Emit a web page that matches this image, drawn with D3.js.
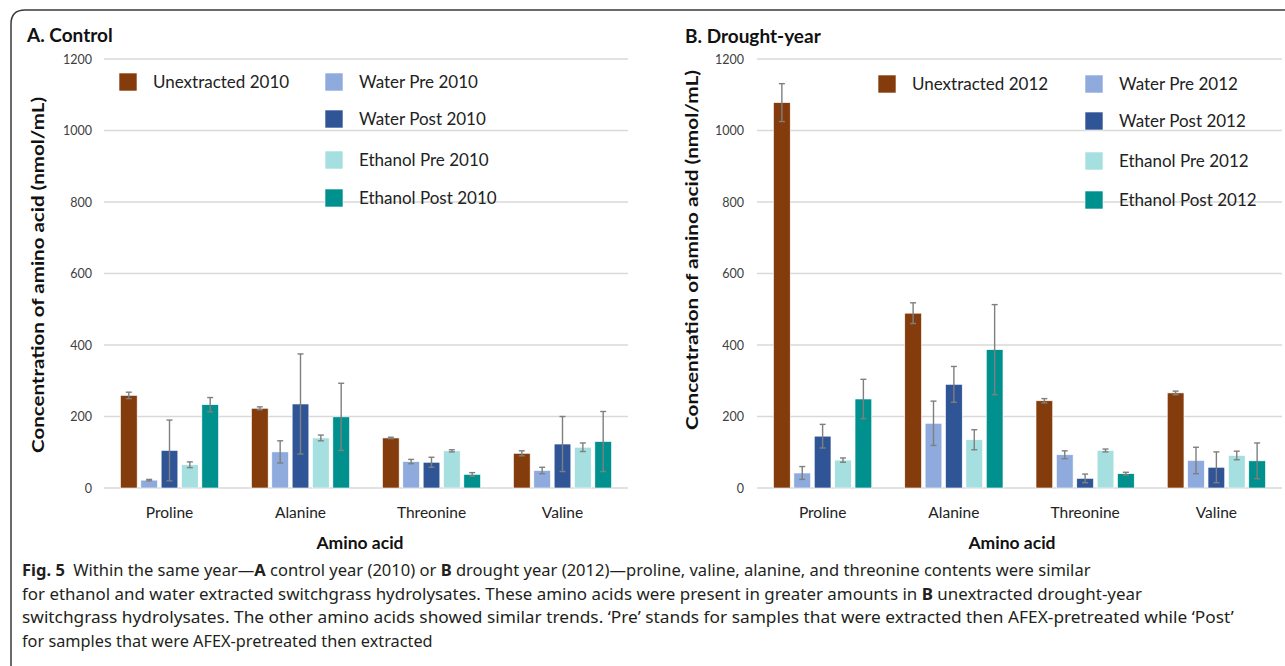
<!DOCTYPE html>
<html>
<head>
<meta charset="utf-8">
<script src="https://cdn.jsdelivr.net/npm/d3@7"></script>
<style>
  html, body { margin: 0; padding: 0; background: #fff; }
  svg { display: block; }
</style>
</head>
<body>
<svg id="chart" width="1285" height="666"></svg>
<script>
// ---------------- DATA ----------------
const categories = ["Proline", "Alanine", "Threonine", "Valine"];
const yTicks = [0, 200, 400, 600, 800, 1000, 1200];

const seriesA = ["Unextracted 2010", "Water Pre 2010", "Water Post 2010", "Ethanol Pre 2010", "Ethanol Post 2010"];
const seriesB = ["Unextracted 2012", "Water Pre 2012", "Water Post 2012", "Ethanol Pre 2012", "Ethanol Post 2012"];
const seriesColors = ["#843C0C", "#8FAADC", "#2F5597", "#A6DFDF", "#00918E"];

// values per series (rows) across categories (columns)
const valuesA = [
  [259, 223, 140, 97],   // Unextracted 2010
  [22, 101, 74, 49],     // Water Pre 2010
  [105, 235, 72, 123],   // Water Post 2010
  [65, 140, 104, 114],   // Ethanol Pre 2010
  [233, 199, 38, 130]    // Ethanol Post 2010
];
const errorsA = [
  [9, 4, 2, 7],
  [2, 31, 6, 9],
  [85, 140, 14, 77],
  [8, 8, 3, 12],
  [20, 94, 5, 84]
];
const valuesB = [
  [1078, 489, 244, 266], // Unextracted 2012
  [42, 181, 93, 77],     // Water Pre 2012
  [145, 290, 27, 58],    // Water Post 2012
  [78, 135, 105, 91],    // Ethanol Pre 2012
  [249, 387, 40, 76]     // Ethanol Post 2012
];
const errorsB = [
  [53, 29, 6, 5],
  [18, 62, 11, 37],
  [33, 50, 12, 43],
  [6, 28, 4, 12],
  [55, 126, 4, 50]
];

const panelTitles = ["A. Control", "B. Drought-year"];
const yTitle = "Concentration of amino acid (nmol/mL)";
const xTitle = "Amino acid";

// ---------------- DRAW ----------------
const svg = d3.select("#chart");
const FONT = "Lato, 'Open Sans', sans-serif";

// outer frame with rounded top-left corner
svg.append("path")
  .attr("d", "M11,666 L11,24 Q11,10 25,10 L1285,10")
  .attr("fill", "none").attr("stroke", "#3a3a3a").attr("stroke-width", 1.5);

const y = d3.scaleLinear().domain([0, 1200]).range([488, 59]);

const panels = [
  { title: panelTitles[0], series: seriesA, values: valuesA, errors: errorsA,
    x0: 104, x1: 628, titleX: 27, titleY: 42, yTitleX: 38, yTitleY: 275, yTitleLen: 356,
    tickX: 92, legX1: 119, legX2: 325, legY: [82, 119, 160, 198], xTitleX: 360 },
  { title: panelTitles[1], series: seriesB, values: valuesB, errors: errorsB,
    x0: 757, x1: 1282, titleX: 685, titleY: 43, yTitleX: 692, yTitleY: 250, yTitleLen: 360,
    tickX: 744, legX1: 878, legX2: 1085, legY: [84, 121, 161, 200], xTitleX: 1012 }
];

panels.forEach(p => {
  const g = svg.append("g");

  const x = d3.scaleBand().domain(categories).range([p.x0, p.x1]).padding(0);
  const xs = d3.scaleBand().domain(p.series).range([0, x.bandwidth()])
    .paddingInner(0.18).paddingOuter(0.81);

  // gridlines
  g.append("g").selectAll("line").data(yTicks).join("line")
    .attr("x1", p.x0).attr("x2", p.x1)
    .attr("y1", d => y(d)).attr("y2", d => y(d))
    .attr("stroke", "#d9d9d9").attr("stroke-width", 1.3);

  // y axis tick labels
  const yAxis = d3.axisLeft(y).tickValues(yTicks).tickFormat(d3.format("d")).tickSize(0).tickPadding(0);
  const ya = g.append("g").attr("transform", `translate(${p.tickX},0)`).call(yAxis);
  ya.select(".domain").remove();
  ya.selectAll("text").attr("font-family", FONT).attr("font-size", 12.5).attr("fill", "#404040");

  // x axis category labels
  const xAxis = d3.axisBottom(x).tickSize(0).tickPadding(0);
  const xa = g.append("g").attr("transform", `translate(0,507)`).call(xAxis);
  xa.select(".domain").remove();
  xa.selectAll("text").attr("font-family", FONT).attr("font-size", 15.5).attr("fill", "#222");

  // bars
  const data = [];
  p.series.forEach((s, si) => categories.forEach((c, ci) => {
    data.push({ s, si, c, v: p.values[si][ci], e: p.errors[si][ci] });
  }));

  g.append("g").selectAll("rect").data(data).join("rect")
    .attr("x", d => x(d.c) + xs(d.s))
    .attr("width", xs.bandwidth())
    .attr("y", d => y(d.v))
    .attr("height", d => y(0) - y(d.v))
    .attr("fill", d => seriesColors[d.si])
    .attr("stroke", "#ffffff").attr("stroke-width", 0.6);

  // error bars
  const eg = g.append("g").attr("stroke", "#7f7f7f").attr("stroke-width", 1.4);
  data.forEach(d => {
    const cx = x(d.c) + xs(d.s) + xs.bandwidth() / 2;
    const top = y(d.v + d.e), bot = y(Math.max(0, d.v - d.e));
    eg.append("line").attr("x1", cx).attr("x2", cx).attr("y1", top).attr("y2", bot);
    eg.append("line").attr("x1", cx - 3).attr("x2", cx + 3).attr("y1", top).attr("y2", top);
    eg.append("line").attr("x1", cx - 3).attr("x2", cx + 3).attr("y1", bot).attr("y2", bot);
  });

  // panel title
  g.append("text").attr("x", p.titleX).attr("y", p.titleY)
    .attr("font-family", FONT).attr("font-weight", "bold").attr("font-size", 19)
    .attr("fill", "#111").text(p.title);

  // y title
  g.append("text")
    .attr("transform", `translate(${p.yTitleX + 6},${p.yTitleY}) rotate(-90)`)
    .attr("text-anchor", "middle")
    .attr("font-family", FONT).attr("font-weight", "bold").attr("font-size", 17.5)
    .attr("textLength", p.yTitleLen).attr("lengthAdjust", "spacingAndGlyphs")
    .attr("fill", "#111").text(yTitle);

  // x title
  g.append("text").attr("x", p.xTitleX).attr("y", 549).attr("text-anchor", "middle")
    .attr("font-family", FONT).attr("font-weight", "bold").attr("font-size", 17.5)
    .attr("fill", "#111").text(xTitle);

  // legend
  const lg = g.append("g");
  p.series.forEach((s, i) => {
    const lx = i === 0 ? p.legX1 : p.legX2;
    const cy = i === 0 ? p.legY[0] : p.legY[i - 1];
    lg.append("rect").attr("x", lx).attr("y", cy - 9).attr("width", 18).attr("height", 18)
      .attr("fill", seriesColors[i]).attr("stroke", "#ffffff").attr("stroke-width", 0.6);
    lg.append("text").attr("x", lx + 34).attr("y", cy + 6)
      .attr("font-family", FONT).attr("font-size", 17).attr("fill", "#222").text(s);
  });
});

// caption
const captionLines = [
  [["b", "Fig. 5"], ["n", "\u2002Within the same year\u2014"], ["b", "A"], ["n", " control year (2010) or "], ["b", "B"], ["n", " drought year (2012)\u2014proline, valine, alanine, and threonine contents were similar"]],
  [["n", "for ethanol and water extracted switchgrass hydrolysates. These amino acids were present in greater amounts in "], ["b", "B"], ["n", " unextracted drought-year"]],
  [["n", "switchgrass hydrolysates. The other amino acids showed similar trends. \u2018Pre\u2019 stands for samples that were extracted then AFEX-pretreated while \u2018Post\u2019"]],
  [["n", "for samples that were AFEX-pretreated then extracted"]]
];
const captionWidths = [1069, 1121, 1255, 354];
const captionY = [576, 600, 623, 647];

const capGroups = [];
let natTotal = 0, tgtTotal = 0;
captionLines.forEach((line, i) => {
  const g = svg.append("g");
  const t = g.append("text").attr("x", 0).attr("y", 0)
    .attr("font-family", "'Noto Sans', 'Open Sans', sans-serif").attr("font-size", 16.5)
    .attr("fill", "#231f20");
  line.forEach(([kind, txt]) => {
    t.append("tspan").attr("font-weight", kind === "b" ? "bold" : "normal").text(txt);
  });
  const w = t.node().getComputedTextLength();
  natTotal += w; tgtTotal += captionWidths[i];
  capGroups.push({ g, w });
});
const sxAll = tgtTotal / natTotal;
capGroups.forEach(({ g, w }, i) => {
  let sx = captionWidths[i] / w;
  sx = Math.max(sxAll * 0.97, Math.min(sxAll * 1.03, sx));
  if (22 + w * sx > 1280) sx = (1280 - 22) / w;
  g.attr("transform", `translate(22,${captionY[i]}) scale(${sx},1)`);
});
</script>
</body>
</html>
